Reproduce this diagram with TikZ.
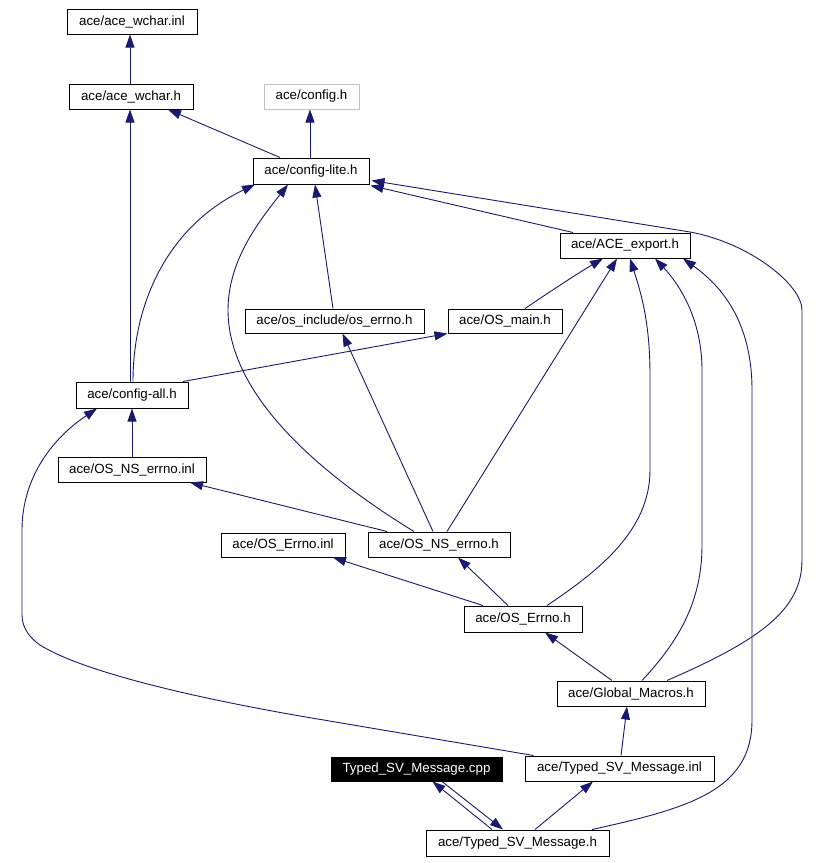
\documentclass[tikz,border=0pt]{standalone}
\usepackage{fontspec}
\setmainfont{Liberation Sans}
\usetikzlibrary{arrows.meta,calc}
\definecolor{edgeblue}{HTML}{191970}
\definecolor{grayb}{HTML}{BFBFBF}
\begin{document}
\begin{tikzpicture}[x=1pt,y=-1pt,
  box/.style n args={2}{draw=black, line width=1pt, minimum width=#1, minimum height=#2,
    inner sep=0pt, anchor=center, font=\fontsize{13.3}{16}\selectfont},
  e/.style={draw=edgeblue, line width=0.9pt, -{Triangle[length=13pt,width=9pt]}}]
\fill[white] (0,0) rectangle (823,863);
\useasboundingbox (0,0) rectangle (823,863);

% nodes
\node[box={130pt}{25pt}] (wcharinl) at (132,21.5) {ace/ace\_wchar.inl};
\node[box={124pt}{25pt}] (wcharh) at (131,96.5) {ace/ace\_wchar.h};
\node[box={95pt}{25pt}, draw=grayb] (config) at (311.5,96.5) {ace/config.h};
\node[box={116pt}{26pt}] (lite) at (311,171) {ace/config-lite.h};
\node[box={130pt}{25pt}] (export) at (625,245.5) {ace/ACE\_export.h};
\node[box={179pt}{24pt}] (oserrno) at (334.5,321) {ace/os\_include/os\_errno.h};
\node[box={114pt}{24pt}] (osmain) at (505,321) {ace/OS\_main.h};
\node[box={112pt}{26pt}] (all) at (132,395) {ace/config-all.h};
\node[box={148pt}{25pt}] (nsinl) at (132,469.5) {ace/OS\_NS\_errno.inl};
\node[box={124pt}{24pt}] (errinl) at (283,545) {ace/OS\_Errno.inl};
\node[box={142pt}{25pt}] (nsh) at (439,544.5) {ace/OS\_NS\_errno.h};
\node[box={118pt}{26pt}] (errh) at (523,619) {ace/OS\_Errno.h};
\node[box={148pt}{25pt}] (macros) at (631,693.5) {ace/Global\_Macros.h};
\node[box={171pt}{24pt}, fill=black, text=white] (cpp) at (416.5,769) {Typed\_SV\_Message.cpp};
\node[box={189pt}{25pt}] (inl) at (619.5,768.5) {ace/Typed\_SV\_Message.inl};
\node[box={183pt}{26pt}] (h) at (517.5,843) {ace/Typed\_SV\_Message.h};

% edges
\draw[e] ($(wcharh.north)+(-1,0)$) -- ($(wcharinl.south)+(-2,0)$);
\draw[e] ($(lite.north)+(-31,0)$) -- ($(wcharh.south)+(37,0)$);
\draw[e] ($(lite.north)+(-1,0)$) -- ($(config.south)+(-1.5,0)$);
\draw[e] ($(all.north)+(-2,0)$) -- ($(wcharh.south)+(-1,0)$);
\draw[e] ($(all.north)+(1,0)$) .. controls (133,300) and (170,225) .. ($(lite.south)+(-56,0)$);
\draw[e] ($(nsh.north)+(-25,0)$) .. controls (330,480) and (228,400) .. (228,310)
   .. controls (228,260) and (260,220) .. ($(lite.south)+(-23,0)$);
\draw[e] ($(oserrno.north)+(-1.5,0)$) -- ($(lite.south)+(4,0)$);
\draw[e] ($(export.north)+(-52,0)$) -- ($(lite.south east)+(1,1)$);
\draw[e] ($(macros.north)+(36,0)$) .. controls (760,640) and (802,610) .. (802,560)
   -- (802,310) .. controls (802,285) and (750,243) .. (690,232)
   -- ($(lite.south east)+(2,-4)$);
\draw[e] ($(osmain.north)+(20,0)$) .. controls (545,295) and (575,275) .. ($(export.south)+(-22,0)$);
\draw[e] ($(nsh.north)+(8,0)$) -- ($(export.south)+(-8,0)$);
\draw[e] ($(errh.north)+(24,0)$) .. controls (600,570) and (650,530) .. (650,470)
   -- (650,375) .. controls (650,320) and (640,290) .. ($(export.south)+(5,0)$);
\draw[e] ($(macros.north)+(11,0)$) .. controls (680,640) and (702,600) .. (702,545)
   -- (702,370) .. controls (702,320) and (680,285) .. ($(export.south)+(30,0)$);
\draw[e] ($(h.north)+(74.5,0)$) .. controls (690,808) and (752,790) .. (752,720)
   -- (752,390) .. controls (752,320) and (720,285) .. ($(export.south)+(58,0)$);
\draw[e] ($(all.north)+(51,0)$) -- (osmain.south west);
\draw[e] (nsinl.north) -- (all.south);
\draw[e] ($(nsh.north)+(-52,0)$) -- ($(nsinl.south)+(58,0)$);
\draw[e] ($(nsh.north)+(-6,0)$) -- ($(oserrno.south)+(8,0)$);
\draw[e] ($(errh.north)+(-40,0)$) -- ($(errinl.south)+(50,0)$);
\draw[e] ($(errh.north)+(-15,0)$) -- ($(nsh.south)+(19,0)$);
\draw[e] ($(macros.north)+(-19,0)$) -- ($(errh.south)+(22,0)$);
\draw[e] ($(inl.north)+(-86,0)$) -- (300,716) .. controls (180,695) and (80,670) .. (40,645)
   .. controls (30,638) and (22,628) .. (22,615) -- (22,530)
   .. controls (22,480) and (50,440) .. ($(all.south)+(-35,0)$);
\draw[e] ($(inl.north)+(1.5,0)$) -- ($(macros.south)+(-4,0)$);
\draw[e] ($(h.north)+(-25.5,0)$) -- ($(cpp.south)+(16,0)$);
\draw[e] ($(cpp.south)+(25.5,0)$) -- ($(h.north)+(-14.5,0)$);
\draw[e] ($(h.north)+(17.5,0)$) -- ($(inl.south)+(-26.5,0)$);
\end{tikzpicture}
\end{document}
